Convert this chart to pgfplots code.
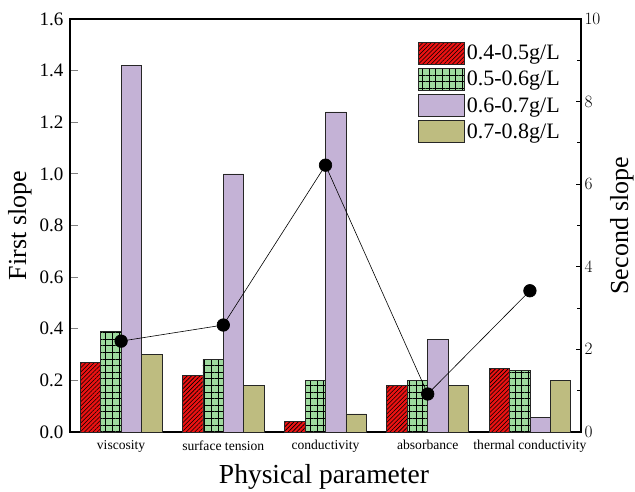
\documentclass[border=0pt]{standalone}
\usepackage{fontspec}
\setmainfont{Liberation Serif}
\usepackage{pgfplots}
\pgfplotsset{compat=1.18}
\usetikzlibrary{patterns.meta}

\definecolor{barred}{RGB}{236,18,18}
\definecolor{bargreen}{RGB}{158,218,158}
\definecolor{barpurple}{RGB}{196,178,214}
\definecolor{barolive}{RGB}{190,188,128}

% first slope per concentration range
\pgfplotstableread{
x  a     b     c     d
0  0.27  0.39  1.42  0.30
1  0.22  0.28  1.00  0.18
2  0.04  0.20  1.24  0.07
3  0.18  0.20  0.36  0.18
4  0.245 0.24  0.055 0.20
}\firstslope

\begin{document}
\begin{tikzpicture}
\begin{axis}[
  scale only axis, width=511pt, height=413pt,
  xmin=-0.5, xmax=4.5, ymin=0, ymax=1.6,
  ybar, bar width=0.2,
  axis line style={line width=1.1pt},
  xtick={0,1,2,3,4},
  xticklabels={viscosity, surface tension, conductivity, absorbance, thermal conductivity},
  xtick pos=bottom, major x tick style={draw=none},
  xticklabel style={font=\fontsize{13.6}{14}\selectfont, yshift=-5pt},
  ytick={0,0.2,0.4,0.6,0.8,1.0,1.2,1.4,1.6}, ytick pos=left,
  tick align=inside, major tick length=8pt,
  major y tick style={line width=1pt},
  yticklabel style={font=\fontsize{19}{19}\selectfont, xshift=-3pt,
    /pgf/number format/.cd, fixed, fixed zerofill, precision=1, assume math mode=true},
  ylabel={First slope},
  ylabel style={at={(axis description cs:-0.098,0.5)}, anchor=center,
    font=\fontsize{26}{26}\selectfont},
  xlabel={Physical parameter},
  xlabel style={at={(axis description cs:0.497,-0.124)}, anchor=base,
    font=\fontsize{27.5}{27.5}\selectfont},
  legend image code/.code={\draw[#1] (0pt,-11pt) rectangle (46pt,11pt);},
  legend style={at={(rel axis cs:0.675,0.95)}, anchor=north west,
    draw=none, fill=none, font=\fontsize{22}{24}\selectfont,
    row sep=3.5pt, /tikz/every even column/.style={column sep=4pt}},
  legend cell align=left,
  every axis plot/.append style={draw=black!85, line width=0.7pt},
]
\addplot[fill=barred, bar shift=-0.3,
  postaction={pattern={Lines[angle=45,distance=3pt,line width=0.6pt]}, pattern color=black}]
  table[x=x,y=a]{\firstslope};
\addplot[fill=bargreen, bar shift=-0.1,
  postaction={pattern={Hatch[angle=0,distance=6.6pt,line width=0.6pt]}, pattern color=black}]
  table[x=x,y=b]{\firstslope};
\addplot[fill=barpurple, bar shift=0.1] table[x=x,y=c]{\firstslope};
\addplot[fill=barolive, bar shift=0.3] table[x=x,y=d]{\firstslope};
\legend{0.4-0.5g/L, 0.5-0.6g/L, 0.6-0.7g/L, 0.7-0.8g/L}
\coordinate (frameSW) at (rel axis cs:0,0);
\coordinate (frameNE) at (rel axis cs:1,1);
\end{axis}

\begin{axis}[
  scale only axis, width=511pt, height=413pt,
  xmin=-0.5, xmax=4.5, ymin=0, ymax=10,
  axis x line=none, axis y line*=right,
  axis line style={line width=1.1pt},
  ytick={0,2,4,6,8,10}, minor ytick={1,3,5,7,9},
  tick align=inside, major tick length=5pt, minor tick length=4pt,
  every tick/.style={line width=0.8pt, black},
  yticklabel style={font=\fontsize{17.5}{17.5}\selectfont},
  ylabel={Second slope},
  ylabel style={at={(axis description cs:1.08,0.5)}, anchor=center, rotate=0,
    font=\fontsize{26}{26}\selectfont},
]
\addplot[black, line width=0.6pt, mark=*, mark size=6.3pt,
  mark options={fill=black, solid}]
  coordinates {(0,2.20) (1,2.59) (2,6.46) (3,0.92) (4,3.42)};
\end{axis}

\pgfresetboundingbox
\path ([shift={(-70pt,-59pt)}]frameSW) rectangle ([shift={(54pt,19pt)}]frameNE);
\end{tikzpicture}
\end{document}
